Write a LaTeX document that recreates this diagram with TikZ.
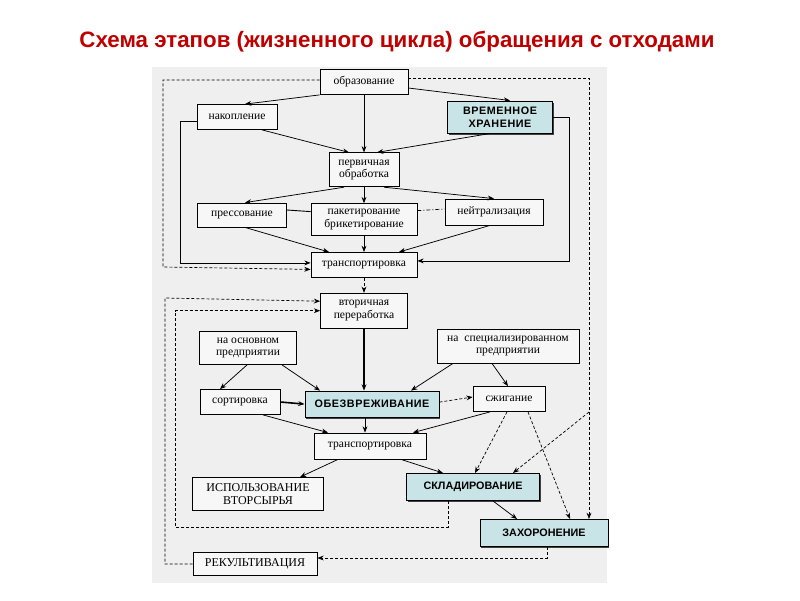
\documentclass[tikz,border=0pt]{standalone}
\usepackage{fontspec}
\setmainfont{Liberation Serif}
\newfontfamily\capsfont{Liberation Sans}
\usetikzlibrary{
  arrows.meta,
  positioning,
  calc,
  shadows
}
\definecolor{wsTitle}{HTML}{BE0000}
\definecolor{wsPanel}{HTML}{EFEFEF}
\definecolor{wsBox}{HTML}{F7F7F7}
\definecolor{wsCyan}{HTML}{C8E4E6}
\tikzset{
  wsnode/.style={
    draw, line width=0.8pt, fill=wsBox, inner sep=1pt,
    font=\fontsize{11.6}{12.5}\selectfont
  },
  twoline/.style={align=center},
  wscaps/.style={wsnode, font=\fontsize{12}{13}\selectfont},
  wsmark/.style={
    wsnode, fill=wsCyan, line width=1pt,
    drop shadow={shadow xshift=1.2pt, shadow yshift=-1.6pt, fill=black!75, opacity=1},
    font=\capsfont\bfseries\fontsize{10.8}{13}\selectfont
  },
  wswide/.style={wsmark, font=\capsfont\bfseries\fontsize{10.8}{13}\selectfont\addfontfeature{LetterSpace=5}},
  flow/.style={-{Stealth[length=2.2mm, width=1.7mm]}, line width=0.75pt},
  heavyflow/.style={flow, line width=1.6pt},
  dflow/.style={flow, line width=0.7pt, dash pattern=on 3pt off 2pt},
  link/.style={line width=0.9pt},
  dlink/.style={line width=0.7pt, dash pattern=on 4pt off 2pt on 1pt off 2pt}
}
\begin{document}
\begin{tikzpicture}[x=1pt, y=-1pt]
  \useasboundingbox[fill=white] (0,0) rectangle (800,600);
  \fill[wsPanel] (152,67) rectangle (607,583);

  \node[font=\capsfont\bfseries\fontsize{22.3}{25}\selectfont, text=wsTitle] (title) at (397,42)
    {Схема этапов (жизненного цикла) обращения с отходами};

  % main column
  \node[wsnode, minimum width=88pt, minimum height=25pt] (obr) at (364,82) {образование};
  \node[wsnode, twoline, minimum width=70pt, minimum height=34pt, below=57.5pt of obr] (perv) {первичная\\обработка};
  \node[wsnode, twoline, minimum width=106pt, minimum height=32pt, below=16pt of perv] (paket) {пакетирование\\брикетирование};
  \node[wsnode, minimum width=106pt, minimum height=25pt, below=16pt of paket] (trans1) {транспортировка};
  \node[wsnode, twoline, minimum width=87pt, minimum height=35pt, below=15pt of trans1] (vtor) {вторичная\\переработка};
  \node[wswide, minimum width=134pt, minimum height=26pt, below=62pt of vtor, xshift=8pt] (obezv) {ОБЕЗВРЕЖИВАНИЕ};
  \node[wsnode, minimum width=112pt, minimum height=26pt, below=15pt of obezv, xshift=-2pt] (trans2) {транспортировка};

  % side nodes
  \node[wsnode, minimum width=80pt, minimum height=25pt] (nak) at (237,117) {накопление};
  \node[wswide, twoline, minimum width=105pt, minimum height=32pt] (vrem) at (500,117) {ВРЕМЕННОЕ\\ХРАНЕНИЕ};
  \node[wsnode, minimum width=89pt, minimum height=24pt] (press) at (242,215) {прессование};
  \node[wsnode, minimum width=98pt, minimum height=26pt] (neit) at (494,212) {нейтрализация};
  \node[wsnode, twoline, minimum width=97pt, minimum height=33pt] (osn) at (248,348) {на основном\\предприятии};
  \node[wsnode, twoline, minimum width=142pt, minimum height=34pt] (spec) at (508,346) {на ~специализированном\\предприятии};
  \node[wsnode, minimum width=80pt, minimum height=25pt] (sort) at (240,402) {сортировка};
  \node[wsnode, minimum width=72pt, minimum height=25pt] (szh) at (509,399) {сжигание};
  \node[wscaps, twoline, minimum width=131pt, minimum height=33pt] (isp) at (258,494) {ИСПОЛЬЗОВАНИЕ\\ВТОРСЫРЬЯ};
  \node[wsmark, minimum width=133pt, minimum height=27pt] (sklad) at (473,487) {СКЛАДИРОВАНИЕ};
  \node[wsmark, minimum width=128pt, minimum height=27pt] (zah) at (544,533) {ЗАХОРОНЕНИЕ};
  \node[wscaps, minimum width=124pt, minimum height=23pt] (rek) at (255,564) {РЕКУЛЬТИВАЦИЯ};

  % upper part
  \draw[flow] (obr.south west) -- ([xshift=8pt]nak.north);
  \draw[flow] (obr.south) -- (perv.north);
  \draw[flow] ([yshift=-6pt]obr.east) -- ([xshift=10pt]vrem.north);
  \draw[flow] ([xshift=25pt]nak.south) -- ([xshift=-15pt]perv.north);
  \draw[flow] ([xshift=-10pt]vrem.south) -- ([xshift=13pt]perv.north);
  \draw[flow] ([yshift=-4pt]nak.west) -- ++(-16,0) |- ([yshift=2pt]trans1.west);
  \draw[flow] (vrem.east) -- ++(16,0) |- ([yshift=4pt]trans1.east);
  \draw[flow] ([xshift=-20pt]perv.south) -- ([xshift=3pt]press.north);
  \draw[flow] (perv.south) -- (paket.north);
  \draw[flow] ([xshift=20pt]perv.south) -- (neit.north);
  \draw[link] ([yshift=5pt]press.east) -- ([yshift=8pt]paket.west);
  \draw[dlink] ([yshift=9pt]paket.east) -- ([yshift=3pt]neit.west);
  \draw[flow] ([xshift=3pt]press.south) -- ([xshift=-35pt]trans1.north);
  \draw[flow] (paket.south) -- (trans1.north);
  \draw[flow] ([xshift=-4pt]neit.south) -- ([xshift=35pt]trans1.north);
  \draw[dflow] (trans1.south) -- (vtor.north);

  % outer dashed loops
  \draw[dflow] ([yshift=2pt]obr.west) -| (163,267) -- ([yshift=-4.5pt]trans1.west);
  \draw[dflow] ([yshift=4pt]obr.east) -| ([xshift=45pt]zah.north);
  \coordinate (rbr) at (589,412);
  \draw[dflow] (rbr) -- ([xshift=40pt]sklad.north);
  \draw[dflow] (rek.west) -| (165,298) -- ([yshift=9.5pt]vtor.west);
  \draw[dflow] ([xshift=-25pt]sklad.south) |- (175,527) |- (vtor.west);
  \draw[dflow] ([xshift=3pt]zah.south) |- ([yshift=6pt]rek.east);

  % lower part
  \draw[heavyflow] (vtor.south) -- (vtor.south |- obezv.north);
  \draw[flow] ([xshift=-1pt]osn.south) -- ([xshift=-20pt]sort.north);
  \draw[flow] ([xshift=34pt]osn.south) -- ([xshift=-52pt]obezv.north);
  \draw[flow] ([xshift=-55pt]spec.south) -- ([xshift=39pt]obezv.north);
  \draw[flow] ([xshift=-16pt]spec.south) -- ([xshift=-1pt]szh.north);
  \draw[heavyflow] (sort.east) -- (obezv.west);
  \draw[dflow] ([yshift=2pt]obezv.east) -- ([yshift=2pt]szh.west);
  \draw[flow] ([xshift=23pt]sort.south) -- ([xshift=-42pt]trans2.north);
  \draw[flow] ([xshift=-7pt]obezv.south) -- ([xshift=-5pt]trans2.north);
  \draw[flow] ([xshift=-19pt]szh.south) -- ([xshift=43pt]trans2.north);
  \draw[dflow] ([xshift=-2pt]szh.south) -- ([xshift=2pt]sklad.north);
  \draw[dflow] ([xshift=19pt]szh.south) -- ([xshift=26pt]zah.north);
  \draw[flow] ([xshift=-32pt]trans2.south) -- ([xshift=42pt]isp.north);
  \draw[flow] ([xshift=31pt]trans2.south) -- ([xshift=-30pt]sklad.north);
  \draw[flow] ([xshift=20pt]sklad.south) -- ([xshift=-27pt]zah.north);
\end{tikzpicture}
\end{document}
